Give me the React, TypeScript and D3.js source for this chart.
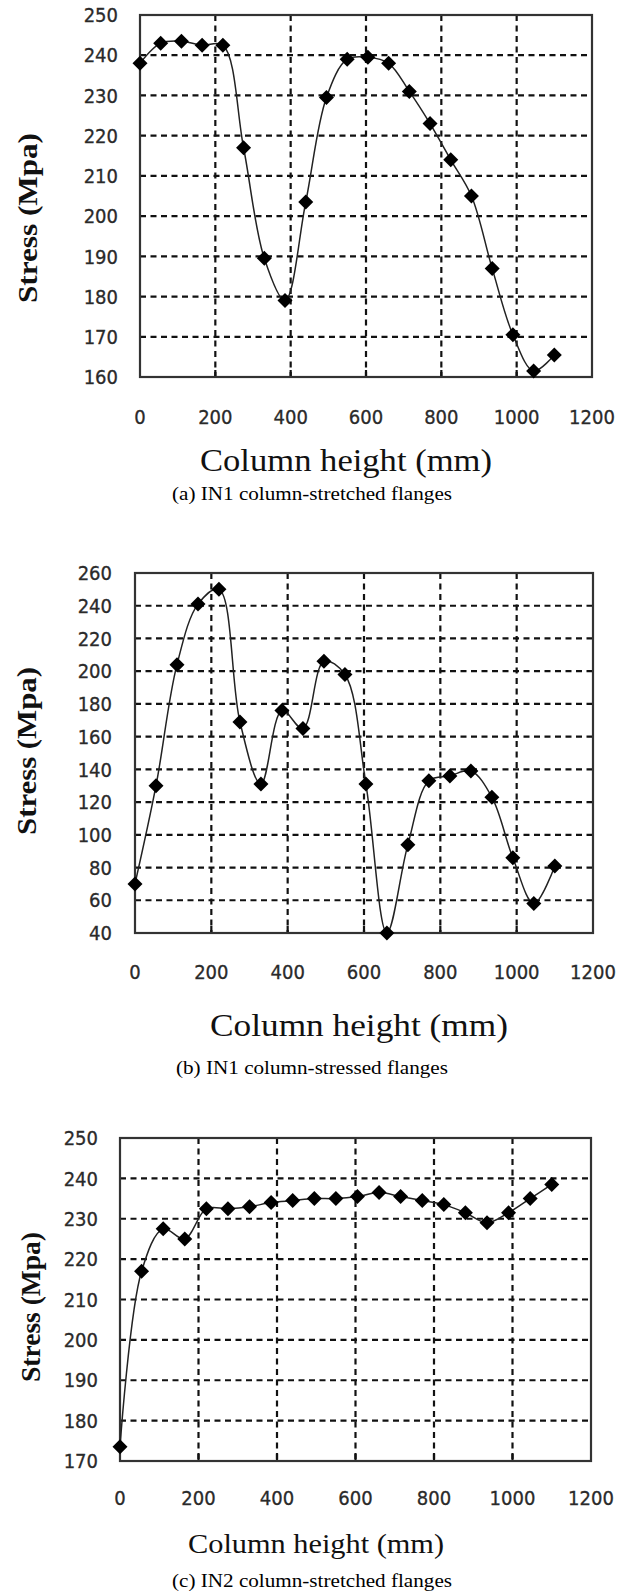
import React from "react";
import * as d3 from "d3";

// ---- data ----
const columnHeights = [0, 55, 110, 165, 220, 275, 330, 385, 440, 495, 550, 605, 660, 715, 770, 825, 880, 935, 990, 1045, 1100];
const stressA = [238, 243, 243.5, 242.5, 242.5, 217, 189.5, 179, 203.5, 229.5, 239, 239.5, 238, 231, 223, 214, 205, 187, 170.5, 161.5, 165.5];
const stressB = [70, 130, 204, 241, 250, 169, 131, 176, 165, 206, 198, 131, 40, 94, 133, 136, 139, 123, 86, 58, 81];
const stressC = [173.5, 217, 227.5, 225, 232.5, 232.5, 233, 234, 234.5, 235, 235, 235.5, 236.5, 235.5, 234.5, 233.5, 231.5, 229, 231.5, 235, 238.5];
const xTicks = [0, 200, 400, 600, 800, 1000, 1200];
const yTicksA = [160, 170, 180, 190, 200, 210, 220, 230, 240, 250];
const yTicksB = [40, 60, 80, 100, 120, 140, 160, 180, 200, 220, 240, 260];
const yTicksC = [170, 180, 190, 200, 210, 220, 230, 240, 250];
const yTitle = "Stress (Mpa)";
const xTitle = "Column height (mm)";
const captions = ["(a) IN1 column-stretched flanges", "(b) IN1 column-stressed flanges", "(c) IN2 column-stretched flanges"];

type Panel = {
  values: number[];
  yTicks: number[];
  caption: string;
  left: number; right: number; top: number; bottom: number;
  yLabelRight: number;
  yTitleX: number; yTitleY: number; yTitleLen: number;
  xTickY: number;
  xTitleX: number; xTitleY: number; xTitleLen: number; xTitleSize: number;
  capY: number; capLen: number;
};

const panels: Panel[] = [
  { values: stressA, yTicks: yTicksA, caption: captions[0], left: 140, right: 592, top: 15, bottom: 377, yLabelRight: 118,
    yTitleX: 27, yTitleY: 218, yTitleLen: 170, xTickY: 424, xTitleX: 346, xTitleY: 471, xTitleLen: 292, xTitleSize: 31, capY: 500, capLen: 280 },
  { values: stressB, yTicks: yTicksB, caption: captions[1], left: 135, right: 593, top: 573, bottom: 933, yLabelRight: 112,
    yTitleX: 26, yTitleY: 751, yTitleLen: 168, xTickY: 979, xTitleX: 359, xTitleY: 1036, xTitleLen: 298, xTitleSize: 32, capY: 1074, capLen: 272 },
  { values: stressC, yTicks: yTicksC, caption: captions[2], left: 120, right: 591, top: 1138, bottom: 1461, yLabelRight: 98,
    yTitleX: 30, yTitleY: 1307, yTitleLen: 150, xTickY: 1505, xTitleX: 316, xTitleY: 1553, xTitleLen: 256, xTitleSize: 28, capY: 1587, capLen: 280 },
];

const tickFont = "'DejaVu Sans Condensed', 'Liberation Sans', Arial, sans-serif";
const serif = "'Liberation Serif', 'Times New Roman', serif";

function Chart({ p }: { p: Panel }) {
  const x = d3.scaleLinear().domain([0, 1200]).range([p.left, p.right]);
  const yMin = p.yTicks[0];
  const yMax = p.yTicks[p.yTicks.length - 1];
  const y = d3.scaleLinear().domain([yMin, yMax]).range([p.bottom, p.top]);
  const line = d3
    .line<number>()
    .x((_, i) => x(columnHeights[i]))
    .y((d) => y(d))
    .curve(d3.curveCatmullRom.alpha(0.5));
  const dash = "6,4.5";
  return (
    <g>
      {p.yTicks.slice(1, -1).map((t) => (
        <line key={"h" + t} x1={p.left} x2={p.right} y1={y(t)} y2={y(t)} stroke="#111" strokeWidth={2.2} strokeDasharray={dash} />
      ))}
      {xTicks.slice(1, -1).map((t) => (
        <g key={"v" + t}>
          <line x1={x(t)} x2={x(t)} y1={p.top} y2={p.bottom} stroke="#111" strokeWidth={2.2} strokeDasharray={dash} />
          <line x1={x(t)} x2={x(t)} y1={p.bottom - 7} y2={p.bottom} stroke="#111" strokeWidth={2.2} />
        </g>
      ))}
      <rect x={p.left} y={p.top} width={p.right - p.left} height={p.bottom - p.top} fill="none" stroke="#333" strokeWidth={2.2} />
      <path d={line(p.values) || ""} fill="none" stroke="#222" strokeWidth={1.5} />
      {p.values.map((v, i) => {
        const cx = x(columnHeights[i]);
        const cy = y(v);
        const r = 7.5;
        return <path key={"m" + i} d={`M${cx},${cy - r}L${cx + r},${cy}L${cx},${cy + r}L${cx - r},${cy}Z`} fill="#000" />;
      })}
      {p.yTicks.map((t) => (
        <text key={"yl" + t} x={p.yLabelRight} y={y(t)} dy="0.36em" textAnchor="end" fontFamily={tickFont} fontSize={20} fill="#2a2a2a" stroke="#2a2a2a" strokeWidth={0.3}>
          {t}
        </text>
      ))}
      {xTicks.map((t) => (
        <text key={"xl" + t} x={x(t)} y={p.xTickY} textAnchor="middle" fontFamily={tickFont} fontSize={20} fill="#2a2a2a" stroke="#2a2a2a" strokeWidth={0.3}>
          {t}
        </text>
      ))}
      <text
        transform={`translate(${p.yTitleX},${p.yTitleY}) rotate(-90)`}
        textAnchor="middle"
        dominantBaseline="central"
        fontFamily={serif}
        fontSize={28}
        fontWeight="bold"
        fill="#111"
        textLength={p.yTitleLen}
        lengthAdjust="spacingAndGlyphs"
      >
        {yTitle}
      </text>
      <text
        x={p.xTitleX}
        y={p.xTitleY}
        textAnchor="middle"
        fontFamily={serif}
        fontSize={p.xTitleSize}
        fill="#111"
        textLength={p.xTitleLen}
        lengthAdjust="spacingAndGlyphs"
      >
        {xTitle}
      </text>
      <text
        x={312}
        y={p.capY}
        textAnchor="middle"
        fontFamily={serif}
        fontSize={19}
        fill="#000"
        textLength={p.capLen}
        lengthAdjust="spacingAndGlyphs"
      >
        {p.caption}
      </text>
    </g>
  );
}

export default function App() {
  return (
    <svg width={627} height={1592} style={{ position: "absolute", left: 0, top: 0, background: "#fff" }}>
      <rect width={627} height={1592} fill="#fff" />
      {panels.map((p, i) => (
        <Chart key={i} p={p} />
      ))}
    </svg>
  );
}
